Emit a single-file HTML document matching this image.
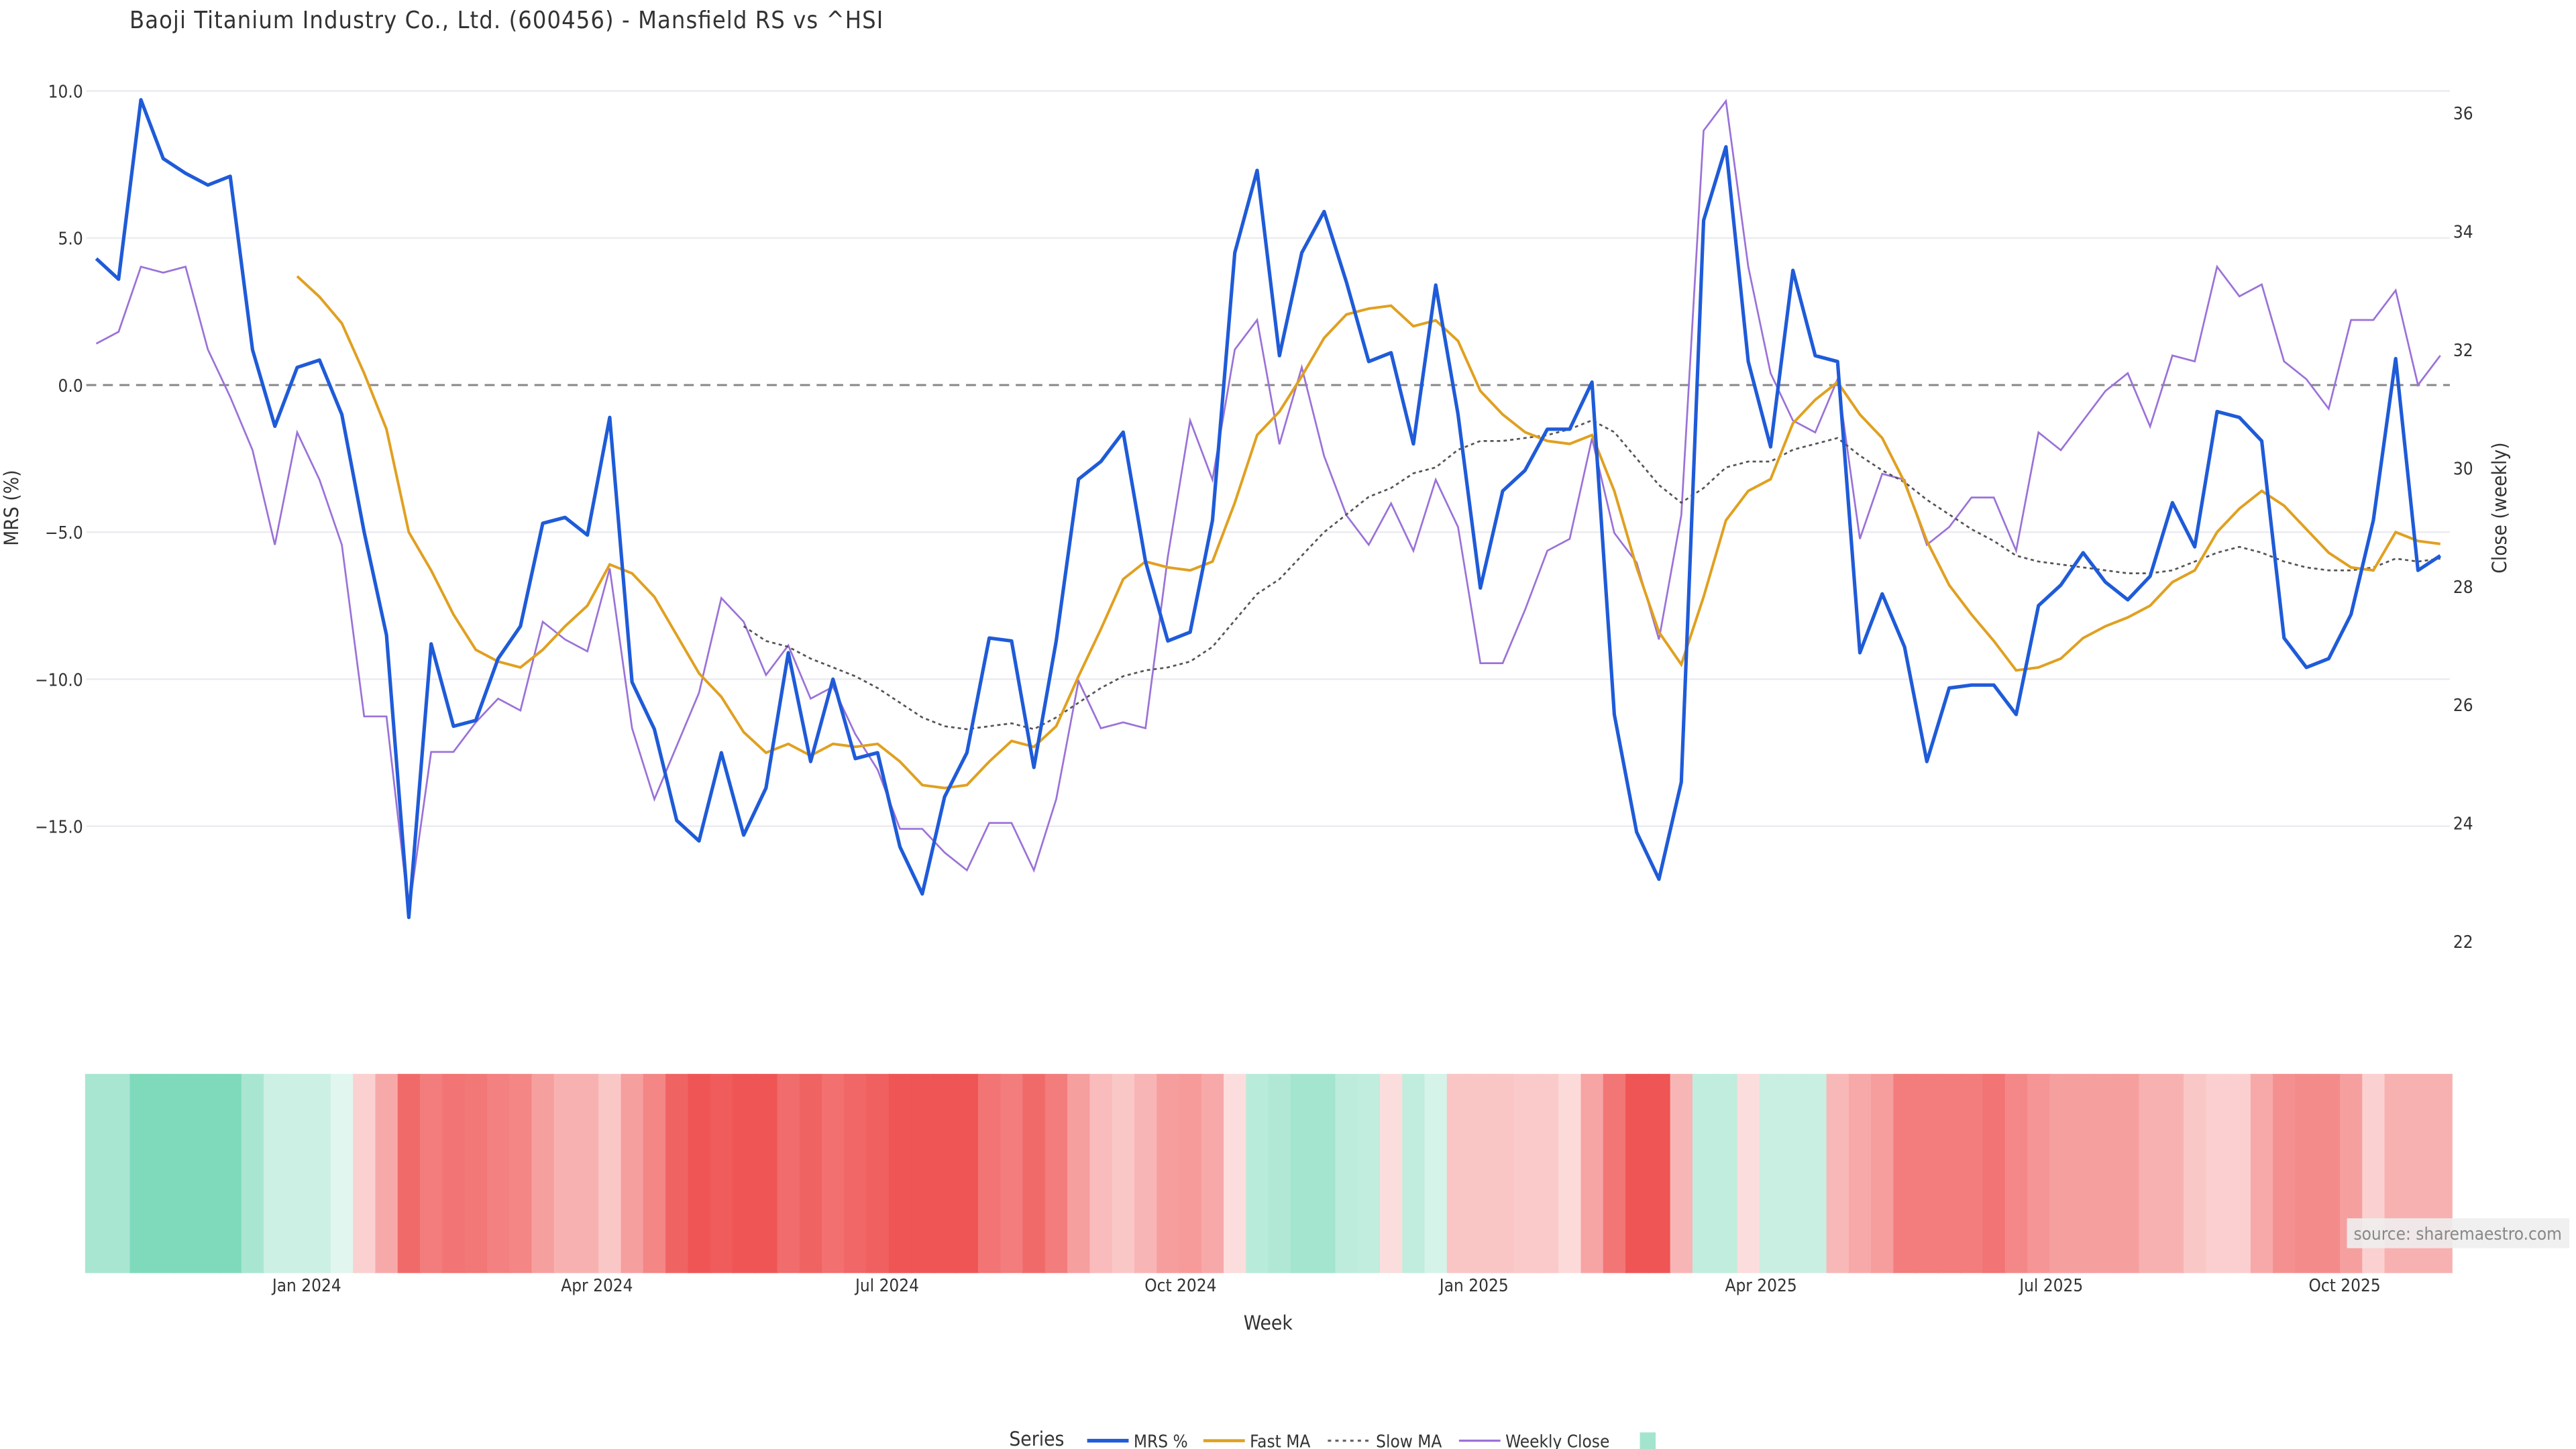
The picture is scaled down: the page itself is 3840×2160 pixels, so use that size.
<!DOCTYPE html>
<html><head><meta charset="utf-8"><title>Mansfield RS</title>
<style>
html,body{margin:0;padding:0;background:#fff;}
svg{display:block;font-family:"DejaVu Sans Condensed","DejaVu Sans","Liberation Sans",sans-serif;}
</style></head>
<body>
<svg id="chart" width="3840" height="2160" viewBox="0 0 1552 873" xmlns="http://www.w3.org/2000/svg">
<rect width="1552" height="873" fill="#fff"/>
<text x="78" y="17" font-size="14.5" fill="#333" textLength="454">Baoji Titanium Industry Co., Ltd. (600456) - Mansfield RS vs ^HSI</text>
<g id="grid"></g>
<g id="heat"></g>
<g id="series"></g>
<g id="axes"></g>
<text x="0" y="0" transform="translate(11,306) rotate(-90)" text-anchor="middle" font-size="12" fill="#333">MRS (%)</text>
<text x="0" y="0" transform="translate(1510,306) rotate(-90)" text-anchor="middle" font-size="12" fill="#333">Close (weekly)</text>
<text x="764" y="801" text-anchor="middle" font-size="12" fill="#333">Week</text>
<rect x="1414" y="734" width="134" height="18" fill="#eee" opacity="0.9"/>
<text x="1418" y="747" font-size="10.5" fill="#888">source: sharemaestro.com</text>
<g>
<text x="608" y="871" font-size="12" fill="#333">Series</text>
<line x1="655" y1="868" x2="680" y2="868" stroke="#1f5bd8" stroke-width="2.2"/>
<text x="683" y="872" font-size="10.5" fill="#333">MRS %</text>
<line x1="725" y1="868" x2="750" y2="868" stroke="#e0a020" stroke-width="1.8"/>
<text x="753" y="872" font-size="10.5" fill="#333">Fast MA</text>
<line x1="800" y1="868" x2="825" y2="868" stroke="#666" stroke-width="1.3" stroke-dasharray="2,2.5"/>
<text x="829" y="872" font-size="10.5" fill="#333">Slow MA</text>
<line x1="879" y1="868" x2="904" y2="868" stroke="#9b72d8" stroke-width="1.3"/>
<text x="907" y="872" font-size="10.5" fill="#333">Weekly Close</text>
<rect x="988" y="863" width="9.5" height="10" fill="#a3e4cf"/>
</g>
</svg>
<script>
const mrs=[4.3,3.6,9.7,7.7,7.2,6.8,7.1,1.2,-1.4,0.6,0.85,-1.0,-5.0,-8.5,-18.1,-8.8,-11.6,-11.4,-9.3,-8.2,-4.7,-4.5,-5.1,-1.1,-10.1,-11.7,-14.8,-15.5,-12.5,-15.3,-13.7,-9.1,-12.8,-10.0,-12.7,-12.5,-15.7,-17.3,-14.0,-12.5,-8.6,-8.7,-13.0,-8.7,-3.2,-2.6,-1.6,-6.0,-8.7,-8.4,-4.6,4.5,7.3,1.0,4.5,5.9,3.5,0.8,1.1,-2.0,3.4,-1.0,-6.9,-3.6,-2.9,-1.5,-1.5,0.1,-11.2,-15.2,-16.8,-13.5,5.6,8.1,0.8,-2.1,3.9,1.0,0.8,-9.1,-7.1,-8.9,-12.8,-10.3,-10.2,-10.2,-11.2,-7.5,-6.8,-5.7,-6.7,-7.3,-6.5,-4.0,-5.5,-0.9,-1.1,-1.9,-8.6,-9.6,-9.3,-7.8,-4.6,0.9,-6.3,-5.8];
const fastMA=[null,null,null,null,null,null,null,null,null,3.7,3.0,2.1,0.4,-1.5,-5.0,-6.3,-7.8,-9.0,-9.4,-9.6,-9.0,-8.2,-7.5,-6.1,-6.4,-7.2,-8.5,-9.8,-10.6,-11.8,-12.5,-12.2,-12.6,-12.2,-12.3,-12.2,-12.8,-13.6,-13.7,-13.6,-12.8,-12.1,-12.3,-11.6,-9.9,-8.3,-6.6,-6.0,-6.2,-6.3,-6.0,-4.0,-1.7,-0.9,0.3,1.6,2.4,2.6,2.7,2.0,2.2,1.5,-0.2,-1.0,-1.6,-1.9,-2.0,-1.7,-3.6,-6.2,-8.4,-9.5,-7.2,-4.6,-3.6,-3.2,-1.3,-0.5,0.1,-1.0,-1.8,-3.3,-5.3,-6.8,-7.8,-8.7,-9.7,-9.6,-9.3,-8.6,-8.2,-7.9,-7.5,-6.7,-6.3,-5.0,-4.2,-3.6,-4.1,-4.9,-5.7,-6.2,-6.3,-5.0,-5.3,-5.4];
const slowMA=[null,null,null,null,null,null,null,null,null,null,null,null,null,null,null,null,null,null,null,null,null,null,null,null,null,null,null,null,null,-8.2,-8.7,-8.9,-9.3,-9.6,-9.9,-10.3,-10.8,-11.3,-11.6,-11.7,-11.6,-11.5,-11.7,-11.3,-10.8,-10.3,-9.9,-9.7,-9.6,-9.4,-8.9,-8.0,-7.1,-6.6,-5.8,-5.0,-4.4,-3.8,-3.5,-3.0,-2.8,-2.2,-1.9,-1.9,-1.8,-1.7,-1.5,-1.2,-1.6,-2.5,-3.4,-4.0,-3.5,-2.8,-2.6,-2.6,-2.2,-2.0,-1.8,-2.4,-2.9,-3.3,-3.9,-4.4,-4.9,-5.3,-5.8,-6.0,-6.1,-6.2,-6.3,-6.4,-6.4,-6.3,-6.0,-5.7,-5.5,-5.7,-6.0,-6.2,-6.3,-6.3,-6.2,-5.9,-6.0,-5.9];
const weeklyClose=[32.1,32.3,33.4,33.3,33.4,32.0,31.2,30.3,28.7,30.6,29.8,28.7,25.8,25.8,22.5,25.2,25.2,25.7,26.1,25.9,27.4,27.1,26.9,28.3,25.6,24.4,25.3,26.2,27.8,27.4,26.5,27.0,26.1,26.3,25.5,24.9,23.9,23.9,23.5,23.2,24.0,24.0,23.2,24.4,26.4,25.6,25.7,25.6,28.5,30.8,29.8,32.0,32.5,30.4,31.7,30.2,29.2,28.7,29.4,28.6,29.8,29.0,26.7,26.7,27.6,28.6,28.8,30.5,28.9,28.4,27.1,29.2,35.7,36.2,33.4,31.6,30.8,30.6,31.5,28.8,29.9,29.8,28.7,29.0,29.5,29.5,28.6,30.6,30.3,30.8,31.3,31.6,30.7,31.9,31.8,33.4,32.9,33.1,31.8,31.5,31.0,32.5,32.5,33.0,31.4,31.9];
const heatScore=[0.6,0.6,1,1,1,1,1,0.6,0.26,0.26,0.26,0.08,-0.14,-0.41,-0.85,-0.72,-0.78,-0.76,-0.69,-0.66,-0.48,-0.36,-0.36,-0.2,-0.48,-0.66,-0.9,-1,-0.95,-1,-1,-0.84,-0.9,-0.81,-0.88,-0.92,-1,-1,-1,-1,-0.78,-0.73,-0.85,-0.73,-0.48,-0.29,-0.2,-0.33,-0.49,-0.52,-0.42,-0.05,0.45,0.53,0.65,0.65,0.41,0.38,-0.05,0.38,0.18,-0.22,-0.22,-0.22,-0.18,-0.18,-0.07,-0.45,-0.77,-1,-1,-0.33,0.38,0.38,-0.05,0.3,0.3,0.3,-0.31,-0.41,-0.5,-0.73,-0.73,-0.73,-0.73,-0.78,-0.64,-0.55,-0.48,-0.48,-0.48,-0.48,-0.36,-0.36,-0.2,-0.15,-0.15,-0.41,-0.59,-0.62,-0.62,-0.48,-0.14,-0.36,-0.36,-0.36];
const leftTicks=[10,5,0,-5,-10,-15];
const leftTickLabels=["10.0","5.0","0.0","\u22125.0","\u221210.0","\u221215.0"];
const rightTicks=[22,24,26,28,30,32,34,36];
const monthTicks=["2024-01-01","2024-04-01","2024-07-01","2024-10-01","2025-01-01","2025-04-01","2025-07-01","2025-10-01"];
const monthLabels=["Jan 2024","Apr 2024","Jul 2024","Oct 2024","Jan 2025","Apr 2025","Jul 2025","Oct 2025"];

const NS="http://www.w3.org/2000/svg";
const X0=58, DX=13.45;
const startDate=new Date("2023-10-27T00:00:00Z");
const x=i=>X0+DX*i;
const xDate=s=>X0+DX*((new Date(s+"T00:00:00Z")-startDate)/(7*864e5));
const yL=v=>232-v*17.72;
const yR=v=>68+(36-v)*35.65;
function mk(tag,attrs,parent){const e=document.createElementNS(NS,tag);for(const k in attrs)e.setAttribute(k,attrs[k]);parent.appendChild(e);return e;}
const grid=document.getElementById('grid'),axes=document.getElementById('axes'),heat=document.getElementById('heat'),ser=document.getElementById('series');

leftTicks.forEach((v,k)=>{
  if(v!==0){const l=mk('line',{x1:52,x2:1476,y1:yL(v),y2:yL(v),stroke:'#ececf0','stroke-width':1},grid);
  
  }
  const t=mk('text',{x:50,y:yL(v)+4,'text-anchor':'end','font-size':10.5,fill:'#333'},axes);
  t.textContent=leftTickLabels[k];
  
  
});
const z=mk('line',{x1:52,x2:1476,y1:yL(0),y2:yL(0),stroke:'#888','stroke-width':1.2,'stroke-dasharray':'6,4'},grid);


rightTicks.forEach(v=>{
  const t=mk('text',{x:1478,y:yR(v)+4,'font-size':10.5,fill:'#333'},axes);
  t.textContent=String(v);
  
  
});
monthTicks.forEach((d,k)=>{
  const t=mk('text',{x:xDate(d),y:778,'text-anchor':'middle','font-size':10.5,fill:'#333'},axes);
  t.textContent=monthLabels[k];
  
  
});

function mix(a,b,t){return 'rgb('+a.map((c,i)=>Math.round(c+(b[i]-c)*t)).join(',')+')';}
const G0=[232,248,242],G1=[127,218,188],R0=[253,228,228],R1=[239,85,85];
heatScore.forEach((v,i)=>{
  const c=v>=0?mix(G0,G1,Math.min(1,v)):mix(R0,R1,Math.min(1,-v));
  const r=mk('rect',{x:x(i)-DX/2,y:647,width:DX+0.6,height:120,fill:c},heat);
  
  
});

function path(arr,yf){let d='',pen=false;arr.forEach((v,i)=>{if(v===null||v===undefined){pen=false;return;}d+=(pen?'L':'M')+x(i).toFixed(2)+','+yf(v).toFixed(2);pen=true;});return d;}
const pc=mk('path',{d:path(weeklyClose,yR),fill:'none',stroke:'#9b72d8','stroke-width':1.1},ser);


const ps=mk('path',{d:path(slowMA,yL),fill:'none',stroke:'#555','stroke-width':1.1,'stroke-dasharray':'2,2'},ser);


const pf=mk('path',{d:path(fastMA,yL),fill:'none',stroke:'#e0a020','stroke-width':1.6},ser);


const pm=mk('path',{d:path(mrs,yL),fill:'none',stroke:'#1f5bd8','stroke-width':2.1,'stroke-linejoin':'round'},ser);


</script>
</body></html>
